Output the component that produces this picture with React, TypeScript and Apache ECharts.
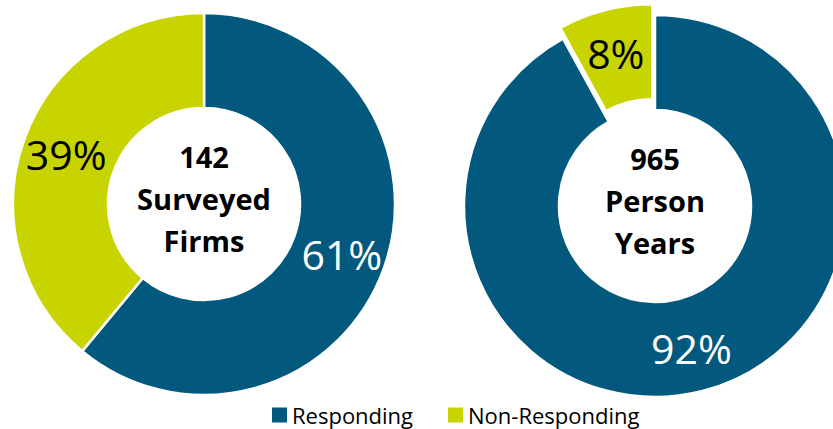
import React, { useEffect, useRef } from "react";
import * as echarts from "echarts";

const categories = ["Responding", "Non-Responding"];
const firmsValues = [61, 39];
const personYearValues = [92, 8];
const centerLabels = ["142\nSurveyed\nFirms", "965\nPerson\nYears"];
const colors = ["#02587D", "#C8D400"];
const labelColors = ["#ffffff", "#000000"];

const FONT = "'Open Sans', Lato, sans-serif";

export default function App() {
  const ref = useRef<HTMLDivElement>(null);
  useEffect(() => {
    if (!ref.current) return;
    const chart = echarts.init(ref.current, null, { renderer: "svg" });
    const centers = [
      [204, 204],
      [655, 206],
    ];
    const mk = (vals: number[], idx: number, explodeLast: boolean) => ({
      type: "pie",
      center: centers[idx],
      radius: [96, 191],
      startAngle: 90,
      clockwise: true,
      selectedMode: explodeLast ? "single" : false,
      selectedOffset: 11,
      avoidLabelOverlap: false,
      label: {
        show: true,
        position: "inside",
        formatter: "{c}%",
        fontSize: 41,
        fontFamily: FONT,
      },
      labelLine: { show: false },
      itemStyle: { borderColor: "#ffffff", borderWidth: 2.5 },
      emphasis: { disabled: true },
      data: vals.map((v, i) => ({
        name: categories[i],
        value: v,
        selected: explodeLast && i === vals.length - 1,
        itemStyle: { color: colors[i] },
        label: { color: labelColors[i] },
      })),
    });
    chart.setOption({
      animation: false,
      legend: {
        data: categories,
        left: 267,
        top: 399,
        icon: "rect",
        itemWidth: 15,
        itemHeight: 15,
        itemGap: 35,
        itemStyle: { borderWidth: 0 },
        selectedMode: false,
        textStyle: { fontSize: 22, fontFamily: FONT, color: "#000" },
      },
      graphic: centers.map((c, i) => ({
        type: "text",
        x: c[0],
        y: c[1] - 6,
        style: {
          text: centerLabels[i],
          textAlign: "center",
          textVerticalAlign: "middle",
          font: `bold 29px ${FONT}`,
          lineHeight: 42,
          fill: "#000",
        },
      })),
      series: [mk(firmsValues, 0, false), mk(personYearValues, 1, true)],
    });
    return () => chart.dispose();
  }, []);
  return (
    <div
      ref={ref}
      style={{ position: "fixed", left: 0, top: 0, width: 833, height: 429, background: "#fff" }}
    />
  );
}
